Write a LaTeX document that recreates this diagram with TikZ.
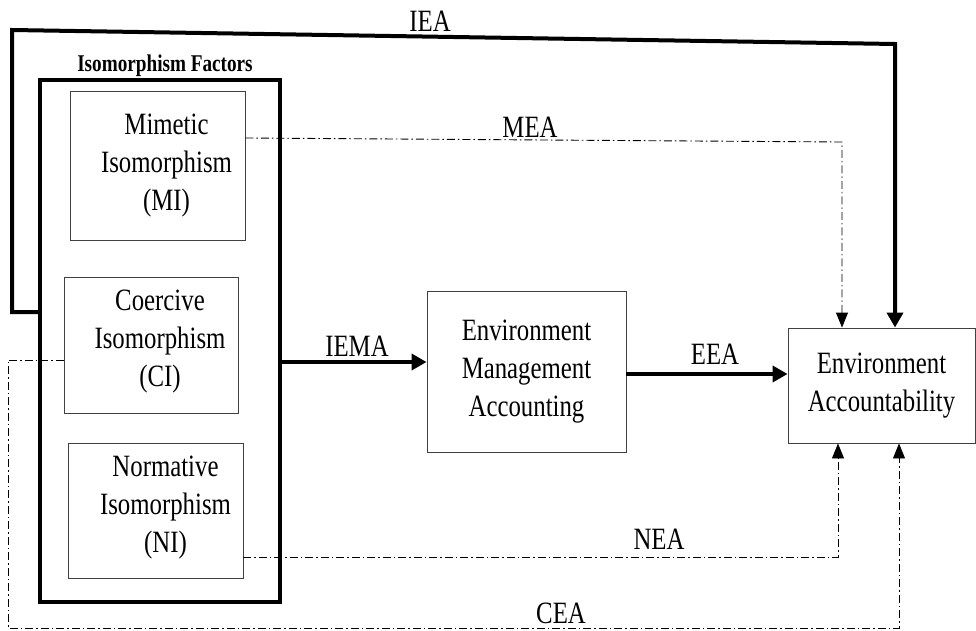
\documentclass[tikz,border=0pt]{standalone}
\usepackage{fontspec}
\setmainfont{Liberation Serif}[FakeStretch=0.8]
\usetikzlibrary{arrows.meta}

\tikzset{
	caixa/.style={draw=black!75, line width=0.9pt, inner sep=0pt},
	texto/.style={align=center, font=\fontsize{31}{38}\selectfont},
	rotulo/.style={font=\fontsize{31}{32}\selectfont, inner sep=0pt},
	forte/.style={line width=4pt, -{Triangle[width=16pt,length=15pt]}},
	fraco/.style={line width=0.9pt, dash pattern=on 8pt off 3pt on 1.5pt off 3pt,
		-{Triangle[width=12pt,length=15pt]}}
}

\begin{document}
\begin{tikzpicture}[x=1pt, y=-1pt]

\useasboundingbox (0,0) rectangle (976,631);

% Fatores
\node[draw, line width=4pt, minimum width=240pt, minimum height=522pt] (F) at (160,341) {};
\node[font=\fontsize{24}{26}\selectfont\bfseries, inner sep=0pt] (T) at (165,66) {Isomorphism Factors};

	\node[caixa, minimum width=175pt, minimum height=149pt] (MI) at (157.5,165.5) {};
	\node[caixa, minimum width=174pt, minimum height=136pt] (CI) at (151,345) {};
	\node[caixa, minimum width=175pt, minimum height=135pt] (NI) at (155.5,510.5) {};

	\node[texto] (tMI) at ([xshift=9pt]MI.center) {Mimetic\\Isomorphism\\(MI)};
	\node[texto] (tCI) at ([xshift=9pt, yshift=3pt]CI.center) {Coercive\\Isomorphism\\(CI)};
	\node[texto] (tNI) at ([xshift=10pt, yshift=3pt]NI.center) {Normative\\Isomorphism\\(NI)};

% Caixas
\node[caixa, texto, minimum width=199pt, minimum height=161pt] (EMA) at (526.5,371.5)
	{Environment\\Management\\Accounting};
\node[caixa, texto, minimum width=187pt, minimum height=115pt] (EA) at (881.5,385.5)
	{Environment\\Accountability};

% Setas
\coordinate (ieaL) at (12,30);
\coordinate (ieaR) at (895,44);
\draw[forte] (F.west |- 0,312) -| (ieaL) -- (ieaR) -- (ieaR |- EA.north);

\coordinate (meaR) at (842,142);
\draw[fraco] (MI.east |- 0,138) -- (meaR) -- (meaR |- EA.north);

\draw[forte] (F.east |- 0,362) -- (EMA.west |- 0,362);
\draw[forte] (EMA.east |- 0,374) -- (EA.west |- 0,374);

\coordinate (neaR) at (838,557);
\draw[fraco] (NI.east |- 0,557) -- (neaR) -- (neaR |- EA.south);

\coordinate (ceaL) at (8,628);
\coordinate (ceaR) at (899,628);
\draw[fraco] (CI.west |- 0,360) -| (ceaL) -- (ceaR) -- (ceaR |- EA.south);

% Rotulos
\node[rotulo] (lIEA) at (430,21) {IEA};
\node[rotulo] (lMEA) at (530,127) {MEA};
\node[rotulo] (lIEMA) at (357,346) {IEMA};
\node[rotulo] (lEEA) at (715,354) {EEA};
\node[rotulo] (lNEA) at (659,539) {NEA};
\node[rotulo] (lCEA) at (561,613) {CEA};

\end{tikzpicture}
\end{document}
